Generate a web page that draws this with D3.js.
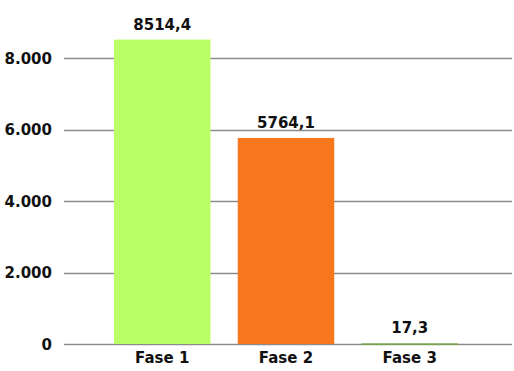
<!DOCTYPE html>
<html lang="es">
<head>
    <meta charset="utf-8">
    <title>Fases</title>
    <script src="https://d3js.org/d3.v7.min.js"></script>
    <style>
        body { margin: 0; background: #fff; }
        svg { font-family: "DejaVu Sans", Verdana, sans-serif; font-weight: bold; }
    </style>
</head>
<body>
<script>
    var categories = ["Fase 1", "Fase 2", "Fase 3"];
    var values = [8514.4, 5764.1, 17.3];
    var colors = ["#bbff66", "#f8761c", "#76a545"];
    var yTicks = [0, 2000, 4000, 6000, 8000];

    var width = 514, height = 371;

    var svg = d3.select("body").append("svg")
        .attr("width", width)
        .attr("height", height);

    var x = d3.scaleBand()
        .domain(categories)
        .range([62, 510])
        .paddingInner(0.22)
        .paddingOuter(0.42);

    var y = d3.scaleLinear()
        .domain([0, 8000])
        .range([344, 58]);

    var fmtTick = function(v) { return d3.format(",")(v).replace(/,/g, "."); };
    var fmtVal = function(v) { return d3.format(".1f")(v).replace(".", ","); };

    // grid
    svg.selectAll(".grid")
        .data(yTicks)
        .enter().append("line")
        .attr("x1", 64)
        .attr("x2", 512)
        .attr("y1", function(d) { return Math.round(y(d)) + 0.5; })
        .attr("y2", function(d) { return Math.round(y(d)) + 0.5; })
        .attr("stroke", "#8c8c8c")
        .attr("stroke-width", 1.5);

    svg.selectAll(".ytick")
        .data(yTicks)
        .enter().append("text")
        .attr("x", 52)
        .attr("y", function(d) { return y(d) + 5.5; })
        .attr("text-anchor", "end")
        .attr("font-size", "15px")
        .attr("fill", "#111")
        .text(fmtTick);

    svg.selectAll(".bar")
        .data(values)
        .enter().append("rect")
        .attr("x", function(d, i) { return x(categories[i]); })
        .attr("width", x.bandwidth())
        .attr("y", function(d) { return y(d); })
        .attr("height", function(d) { return Math.max(1.5, y(0) - y(d)); })
        .attr("fill", function(d, i) { return colors[i]; });

    svg.selectAll(".val")
        .data(values)
        .enter().append("text")
        .attr("x", function(d, i) { return x(categories[i]) + x.bandwidth() / 2; })
        .attr("y", function(d) { return y(d) - 10; })
        .attr("text-anchor", "middle")
        .attr("font-size", "15px")
        .attr("fill", "#111")
        .text(fmtVal);

    svg.selectAll(".cat")
        .data(categories)
        .enter().append("text")
        .attr("x", function(d) { return x(d) + x.bandwidth() / 2; })
        .attr("y", 363)
        .attr("text-anchor", "middle")
        .attr("font-size", "15px")
        .attr("fill", "#111")
        .text(function(d) { return d; });
</script>
</body>
</html>
